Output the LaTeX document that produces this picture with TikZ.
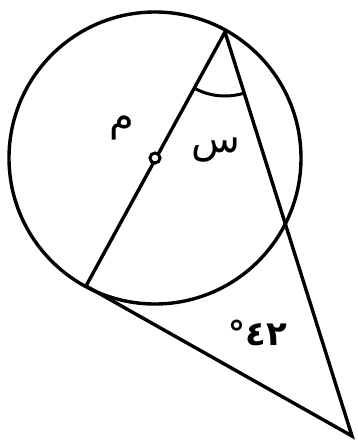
\documentclass[tikz,border=0pt]{standalone}
\usepackage{fontspec}
\newfontfamily\arabicfont[Script=Arabic]{DejaVu Sans}
\TeXXeTstate=1
\usetikzlibrary{angles}
\begin{document}
\begin{tikzpicture}[
        x=1pt, y=1pt,
        geomline/.style={
            draw=black,
            line width=3.4pt
        },
        arlabel/.style={
            font=\arabicfont\fontsize{40}{46}\selectfont,
            inner sep=0pt
        },
        centerdot/.style={
            circle,
            draw=black,
            fill=white,
            line width=3pt,
            minimum size=10pt,
            inner sep=0pt
        }
    ]
        \useasboundingbox (0,0) rectangle (357,-440);
        % Punti della figura
        \coordinate (O) at (155,-158);
        \coordinate (A) at (225,-32);
        \coordinate (B) at (86,-286);
        \coordinate (C) at (352,-436);

        % Cerchio e triangolo
        \draw[geomline] (O) circle (146pt);
        \draw[geomline] (A) -- (B) -- (C) -- cycle;

        % Angolo in A
        \pic[draw=black, line width=3pt, angle radius=64pt] {angle=B--A--C};

        % Centro
        \node[centerdot] (dotO) at (O) {};

        % Etichette
        \node[arlabel] (lblM) at (122,-128) {\beginR م\endR};
        \node[arlabel] (lblS) at (216,-150) {\beginR س\endR};
        \node[arlabel, font=\arabicfont\bfseries\fontsize{34}{40}\selectfont] (lblAng) at (258,-333) {\mbox{°}\mbox{٤٢}};
    \end{tikzpicture}
\end{document}
